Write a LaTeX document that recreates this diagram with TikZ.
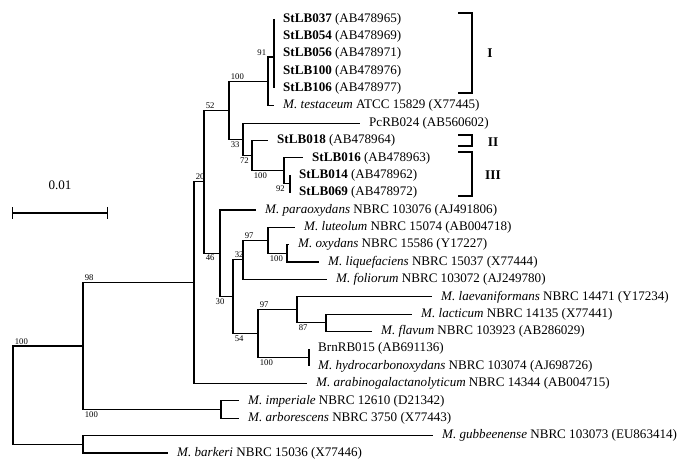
\documentclass[tikz,border=0pt]{standalone}
\usepackage{fontspec}
\setmainfont{Liberation Serif}
\usetikzlibrary{arrows.meta, calc}

\begin{document}
\begin{tikzpicture}[
    x=0.75pt, y=-0.75pt,
    every path/.style={line width=0.8pt}
]
    \tikzset{
        hoja/.style={anchor=west, inner xsep=6.5pt, inner ysep=0pt, font=\fontsize{9.8}{11}\selectfont},
        soporte/.style={inner sep=1pt, font=\fontsize{6.5}{7}\selectfont},
        grupo/.style={line width=1.4pt},
        romano/.style={font=\fontsize{10}{12}\selectfont\bfseries}
    }
    \useasboundingbox (0,0) rectangle (691,473);

    % Nodos internos
    \coordinate (n0)  at (13, 395.2);
    \coordinate (nA)  at (83, 346.0);
    \coordinate (nGB) at (83, 444.3);
    \coordinate (nB)  at (194, 282.5);
    \coordinate (nImp) at (221, 409.6);
    \coordinate (nC)  at (204, 181.9);
    \coordinate (nD)  at (229, 110.4);
    \coordinate (nE)  at (220, 253.3);
    \coordinate (nF)  at (268, 81.4);
    \coordinate (cI)  at (274, 57.0);
    \coordinate (nG)  at (243, 139.4);
    \coordinate (nH)  at (252, 155.7);
    \coordinate (nI)  at (284, 170.9);
    \coordinate (nJ)  at (290, 183.9);
    \coordinate (nK)  at (268, 240.3);
    \coordinate (nL)  at (243, 259.9);
    \coordinate (nM)  at (287, 253.4);
    \coordinate (nN)  at (233, 296.7);
    \coordinate (nO)  at (258, 333.6);
    \coordinate (nP)  at (297, 309.8);
    \coordinate (nQ)  at (326, 322.8);
    \coordinate (nR)  at (309, 357.5);

    % Hojas
    \node[hoja] (stlb037) at (274, 19.0)  {\textbf{StLB037} (AB478965)};
    \node[hoja] (stlb054) at (274, 36.4)  {\textbf{StLB054} (AB478969)};
    \node[hoja] (stlb056) at (274, 53.7)  {\textbf{StLB056} (AB478971)};
    \node[hoja] (stlb100) at (274, 71.1)  {\textbf{StLB100} (AB478976)};
    \node[hoja] (stlb106) at (274, 88.4)  {\textbf{StLB106} (AB478977)};
    \node[hoja] (testaceum) at (274, 105.8) {\textit{M. testaceum} ATCC 15829 (X77445)};
    \node[hoja] (pcrb024) at (360, 123.2) {PcRB024 (AB560602)};
    \node[hoja] (stlb018) at (268, 140.5) {\textbf{StLB018} (AB478964)};
    \node[hoja] (stlb016) at (303, 157.9) {\textbf{StLB016} (AB478963)};
    \node[hoja] (stlb014) at (290, 175.2) {\textbf{StLB014} (AB478962)};
    \node[hoja] (stlb069) at (290, 192.6) {\textbf{StLB069} (AB478972)};
    \node[hoja] (paraoxydans) at (256, 210.0) {\textit{M. paraoxydans} NBRC 103076 (AJ491806)};
    \node[hoja] (luteolum) at (295, 227.3) {\textit{M. luteolum} NBRC 15074 (AB004718)};
    \node[hoja] (oxydans) at (289, 244.7) {\textit{M. oxydans} NBRC 15586 (Y17227)};
    \node[hoja] (liquefaciens) at (319, 262.0) {\textit{M. liquefaciens} NBRC 15037 (X77444)};
    \node[hoja] (foliorum) at (327, 279.4) {\textit{M. foliorum} NBRC 103072 (AJ249780)};
    \node[hoja] (laevaniformans) at (432, 296.8) {\textit{M. laevaniformans} NBRC 14471 (Y17234)};
    \node[hoja] (lacticum) at (412, 314.1) {\textit{M. lacticum} NBRC 14135 (X77441)};
    \node[hoja] (flavum) at (372, 331.5) {\textit{M. flavum} NBRC 103923 (AB286029)};
    \node[hoja] (brnrb015) at (309, 348.8) {BrnRB015 (AB691136)};
    \node[hoja] (hydro) at (309, 366.2) {\textit{M. hydrocarbonoxydans} NBRC 103074 (AJ698726)};
    \node[hoja] (arabino) at (307, 383.6) {\textit{M. arabinogalactanolyticum} NBRC 14344 (AB004715)};
    \node[hoja] (imperiale) at (239, 400.9) {\textit{M. imperiale} NBRC 12610 (D21342)};
    \node[hoja] (arborescens) at (239, 418.3) {\textit{M. arborescens} NBRC 3750 (X77443)};
    \node[hoja] (gubbeenense) at (433, 435.6) {\textit{M. gubbeenense} NBRC 103073 (EU863414)};
    \node[hoja] (barkeri) at (168, 453.0) {\textit{M. barkeri} NBRC 15036 (X77446)};

    % Ramas
    \draw (n0) |- (nA);
    \draw (n0) |- (nGB);
    \draw (nA) |- (nB);
    \draw (nA) |- (nImp);
    \draw (nGB) |- (gubbeenense.west);
    \draw (nGB) |- (barkeri.west);
    \draw (nB) |- (nC);
    \draw (nB) |- (arabino.west);
    \draw (nImp) |- (imperiale.west);
    \draw (nImp) |- (arborescens.west);
    \draw (nC) |- (nD);
    \draw (nC) |- (nE);
    \draw (nD) |- (nF);
    \draw (nD) |- (nG);
    \draw (nF) |- (cI);
    \draw (nF) |- (testaceum.west);
    \draw (stlb037.west) -- (stlb106.west);
    \draw (nG) |- (pcrb024.west);
    \draw (nG) |- (nH);
    \draw (nH) |- (stlb018.west);
    \draw (nH) |- (nI);
    \draw (nI) |- (stlb016.west);
    \draw (nI) |- (nJ);
    \draw (nJ) |- (stlb014.west);
    \draw (nJ) |- (stlb069.west);
    \draw (nE) |- (paraoxydans.west);
    \draw (nE) |- (nN);
    \draw (nN) |- (nL);
    \draw (nN) |- (nO);
    \draw (nL) |- (nK);
    \draw (nL) |- (foliorum.west);
    \draw (nK) |- (luteolum.west);
    \draw (nK) |- (nM);
    \draw (nM) |- (oxydans.west);
    \draw (nM) |- (liquefaciens.west);
    \draw (nO) |- (nP);
    \draw (nO) |- (nR);
    \draw (nP) |- (laevaniformans.west);
    \draw (nP) |- (nQ);
    \draw (nQ) |- (lacticum.west);
    \draw (nQ) |- (flavum.west);
    \draw (nR) |- (brnrb015.west);
    \draw (nR) |- (hydro.west);

    % Valores de bootstrap
    \node[soporte, above right] (sA) at (nA -| n0) {100};
    \node[soporte, above right] (sB) at (nB -| nA) {98};
    \node[soporte, below right] (sImp) at (nImp -| nA) {100};
    \node[soporte, above right] (sC) at (nC -| nB) {20};
    \node[soporte, above right] (sD) at (nD -| nC) {52};
    \node[soporte, below right] (sE) at (nE -| nC) {46};
    \node[soporte, above right] (sF) at (nF -| nD) {100};
    \node[soporte, below right] (sG) at (nG -| nD) {33};
    \node[soporte, above left]  (sI1) at (cI -| nF) {91};
    \node[soporte, below, xshift=1pt] (sH) at (nH -| nG) {72};
    \node[soporte, below right] (sI) at (nI -| nH) {100};
    \node[soporte, below left, xshift=2pt] (sJ) at (nJ -| nI) {92};
    \node[soporte, above right] (sK) at (nK -| nL) {97};
    \node[soporte, below right] (sM) at (nM -| nK) {100};
    \node[soporte, above right] (sL) at (nL -| nN) {32};
    \node[soporte, below] (sN) at (nN -| nE) {30};
    \node[soporte, below right] (sO) at (nO -| nN) {54};
    \node[soporte, above right] (sP) at (nP -| nO) {97};
    \node[soporte, below right] (sQ) at (nQ -| nP) {87};
    \node[soporte, below right] (sR) at (nR -| nO) {100};

    % Grupos
    \draw[grupo] (458,13) -| (472,93) -- (458,93);
    \draw[grupo] (458,135) -| (472,146) -- (458,146);
    \draw[grupo] (458,152) -| (472,196) -- (458,196);
    \node[romano] (gI)   at (490,53)  {I};
    \node[romano] (gII)  at (493,142) {II};
    \node[romano] (gIII) at (493,175) {III};

    % Escala
    \coordinate (e1) at (12,213);
    \coordinate (e2) at (108,213);
    \draw[{Bar[width=9pt]}-{Bar[width=9pt]}] (e1) -- (e2);
    \node[font=\fontsize{9.8}{11}\selectfont] (escala) at (60,185) {0.01};
\end{tikzpicture}
\end{document}
